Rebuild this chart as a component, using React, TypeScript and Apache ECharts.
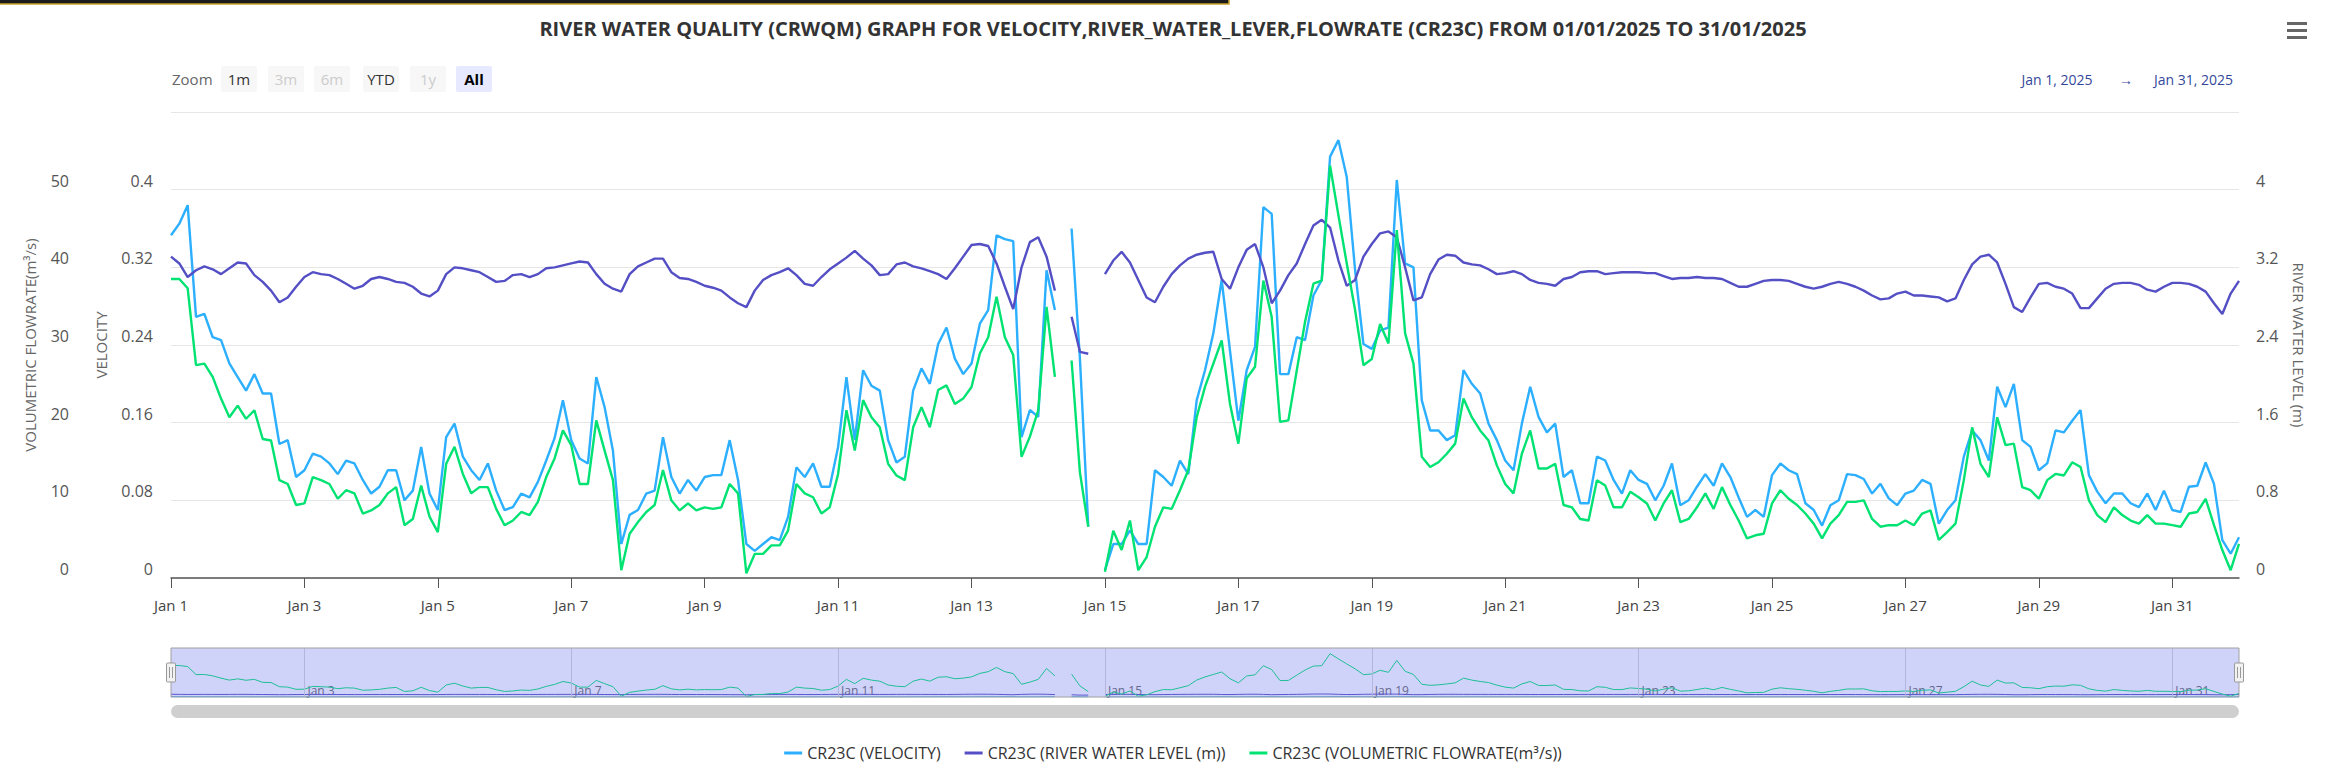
import React, { useEffect, useRef } from "react";
import * as echarts from "echarts";

// ---------- data (3-hourly readings, Jan 1 00:00 -> Feb 1 00:00) ----------
const START = Date.UTC(2025, 0, 1);
const END = Date.UTC(2025, 1, 1);
const STEP_MS = 3 * 3600 * 1000;

const velocity: (number | null)[] = [
  0.353, 0.365, 0.384, 0.269, 0.272, 0.248, 0.245, 0.221, 0.207, 0.193,
  0.210, 0.190, 0.190, 0.138, 0.142, 0.104, 0.111, 0.128, 0.125, 0.118,
  0.107, 0.121, 0.118, 0.101, 0.087, 0.094, 0.111, 0.111, 0.080, 0.090,
  0.135, 0.087, 0.070, 0.145, 0.159, 0.125, 0.111, 0.101, 0.118, 0.090,
  0.070, 0.073, 0.087, 0.083, 0.099, 0.121, 0.144, 0.183, 0.142, 0.123,
  0.118, 0.207, 0.176, 0.131, 0.035, 0.065, 0.070, 0.087, 0.090, 0.145,
  0.104, 0.087, 0.101, 0.090, 0.104, 0.106, 0.106, 0.142, 0.101, 0.035,
  0.028, 0.035, 0.042, 0.039, 0.063, 0.114, 0.104, 0.118, 0.094, 0.094,
  0.135, 0.207, 0.142, 0.214, 0.198, 0.193, 0.142, 0.119, 0.125, 0.193,
  0.216, 0.200, 0.241, 0.258, 0.226, 0.210, 0.221, 0.262, 0.276, 0.353,
  0.349, 0.347, 0.145, 0.173, 0.166, 0.317, 0.276, null, 0.360, 0.226,
  0.053, null, 0.008, 0.035, 0.035, 0.049, 0.035, 0.035, 0.111, 0.104,
  0.095, 0.121, 0.107, 0.183, 0.214, 0.252, 0.307, 0.234, 0.162, 0.214,
  0.238, 0.382, 0.375, 0.210, 0.210, 0.248, 0.245, 0.291, 0.307, 0.434,
  0.451, 0.413, 0.317, 0.241, 0.236, 0.255, 0.258, 0.410, 0.324, 0.320,
  0.183, 0.152, 0.152, 0.142, 0.147, 0.214, 0.200, 0.190, 0.159, 0.142,
  0.121, 0.111, 0.159, 0.197, 0.166, 0.150, 0.159, 0.104, 0.111, 0.077,
  0.077, 0.125, 0.121, 0.101, 0.087, 0.111, 0.101, 0.097, 0.080, 0.095,
  0.118, 0.075, 0.080, 0.094, 0.107, 0.095, 0.118, 0.104, 0.083, 0.063,
  0.070, 0.063, 0.106, 0.118, 0.111, 0.107, 0.077, 0.070, 0.054, 0.075,
  0.080, 0.107, 0.106, 0.102, 0.087, 0.097, 0.082, 0.075, 0.087, 0.090,
  0.101, 0.097, 0.056, 0.070, 0.080, 0.125, 0.152, 0.142, 0.121, 0.197,
  0.176, 0.200, 0.142, 0.135, 0.111, 0.118, 0.152, 0.150, 0.162, 0.173,
  0.106, 0.089, 0.077, 0.087, 0.087, 0.077, 0.073, 0.087, 0.070, 0.090,
  0.070, 0.068, 0.094, 0.095, 0.119, 0.097, 0.039, 0.025, 0.042,
];

const waterLevel: (number | null)[] = [
  3.31, 3.24, 3.10, 3.17, 3.21, 3.18, 3.13, 3.19, 3.25, 3.24,
  3.12, 3.05, 2.96, 2.84, 2.89, 3.00, 3.10, 3.15, 3.13, 3.12,
  3.08, 3.03, 2.98, 3.01, 3.08, 3.10, 3.08, 3.05, 3.04, 3.00,
  2.93, 2.90, 2.96, 3.13, 3.20, 3.19, 3.17, 3.15, 3.10, 3.05,
  3.06, 3.12, 3.13, 3.10, 3.13, 3.19, 3.20, 3.22, 3.24, 3.26,
  3.25, 3.13, 3.03, 2.98, 2.95, 3.13, 3.21, 3.25, 3.29, 3.29,
  3.15, 3.09, 3.08, 3.05, 3.01, 2.99, 2.96, 2.89, 2.83, 2.79,
  2.96, 3.07, 3.12, 3.15, 3.19, 3.12, 3.03, 3.01, 3.10, 3.18,
  3.24, 3.30, 3.37, 3.29, 3.22, 3.12, 3.13, 3.23, 3.25, 3.21,
  3.19, 3.16, 3.13, 3.08, 3.19, 3.31, 3.43, 3.44, 3.42, 3.24,
  3.00, 2.77, 3.20, 3.46, 3.51, 3.31, 2.96, null, 2.69, 2.33,
  2.31, null, 3.13, 3.27, 3.36, 3.25, 3.07, 2.89, 2.84, 3.00,
  3.13, 3.22, 3.29, 3.33, 3.35, 3.36, 3.08, 2.98, 3.20, 3.38,
  3.44, 3.20, 2.83, 2.96, 3.12, 3.24, 3.44, 3.63, 3.69, 3.61,
  3.27, 3.01, 3.07, 3.31, 3.44, 3.55, 3.57, 3.51, 3.20, 2.86,
  2.89, 3.13, 3.28, 3.33, 3.32, 3.25, 3.23, 3.22, 3.18, 3.13,
  3.14, 3.16, 3.13, 3.07, 3.04, 3.03, 3.01, 3.08, 3.10, 3.15,
  3.16, 3.16, 3.13, 3.14, 3.15, 3.15, 3.15, 3.14, 3.14, 3.11,
  3.08, 3.09, 3.09, 3.10, 3.09, 3.09, 3.08, 3.04, 3.00, 3.00,
  3.03, 3.06, 3.07, 3.07, 3.06, 3.03, 3.00, 2.98, 3.00, 3.03,
  3.05, 3.03, 3.00, 2.96, 2.91, 2.87, 2.88, 2.93, 2.95, 2.91,
  2.91, 2.90, 2.89, 2.85, 2.88, 3.07, 3.23, 3.31, 3.33, 3.25,
  3.03, 2.79, 2.74, 2.89, 3.03, 3.04, 3.00, 2.98, 2.93, 2.78,
  2.78, 2.88, 2.98, 3.03, 3.04, 3.04, 3.02, 2.97, 2.95, 3.00,
  3.04, 3.04, 3.03, 3.00, 2.95, 2.83, 2.72, 2.93, 3.06,
];

const flowrate: (number | null)[] = [
  38.5, 38.5, 37.3, 27.4, 27.6, 25.9, 23.1, 20.7, 22.2, 20.5,
  21.6, 17.9, 17.7, 12.6, 12.1, 9.4, 9.6, 13.0, 12.6, 12.1,
  10.2, 11.3, 10.9, 8.3, 8.7, 9.4, 10.9, 11.7, 6.8, 7.6,
  11.9, 7.9, 5.9, 14.7, 16.9, 13.4, 10.9, 11.7, 11.7, 8.9,
  6.8, 7.4, 8.5, 8.1, 9.8, 13.0, 15.4, 19.0, 17.1, 12.1,
  12.1, 20.3, 16.4, 12.6, 1.0, 5.7, 7.2, 8.5, 9.4, 13.9,
  10.0, 8.7, 9.6, 8.7, 9.1, 8.9, 9.1, 12.1, 10.9, 0.6,
  3.1, 3.1, 4.2, 4.2, 6.1, 12.1, 10.9, 10.4, 8.3, 9.1,
  13.4, 21.6, 16.4, 22.9, 20.7, 19.4, 14.7, 13.2, 12.6, 19.4,
  22.0, 19.4, 24.2, 24.8, 22.4, 23.1, 24.6, 28.9, 31.0, 36.2,
  31.0, 28.7, 15.6, 18.2, 21.6, 34.9, 25.9, null, 28.0, 13.6,
  6.6, null, 0.8, 6.1, 3.6, 7.4, 1.0, 2.7, 6.6, 9.1,
  8.9, 11.3, 13.9, 20.7, 24.6, 27.6, 30.6, 22.4, 17.3, 25.7,
  27.2, 38.3, 33.6, 20.1, 20.3, 26.7, 33.0, 37.9, 38.3, 53.1,
  46.7, 40.5, 34.5, 27.4, 28.2, 32.7, 30.2, 44.8, 31.5, 27.6,
  15.6, 14.3, 14.9, 16.0, 17.3, 23.1, 20.7, 19.0, 17.7, 14.5,
  12.1, 10.9, 16.0, 19.0, 14.1, 14.1, 14.7, 9.4, 9.1, 7.6,
  7.4, 12.6, 11.9, 9.1, 9.1, 11.1, 10.4, 9.6, 7.4, 9.6,
  11.3, 7.2, 7.6, 9.1, 10.9, 8.9, 11.7, 9.4, 7.4, 5.1,
  5.5, 5.7, 9.6, 11.3, 10.2, 9.4, 8.3, 7.0, 5.1, 7.0,
  8.1, 9.8, 9.8, 10.0, 7.6, 6.6, 6.8, 6.8, 7.4, 6.8,
  8.3, 8.7, 4.9, 5.9, 7.0, 12.6, 19.4, 14.7, 13.0, 20.7,
  17.1, 17.3, 11.7, 11.3, 10.2, 12.6, 13.4, 13.2, 14.9, 14.3,
  10.0, 8.1, 7.2, 9.1, 8.1, 7.4, 7.0, 8.1, 7.0, 7.0,
  6.8, 6.6, 8.3, 8.5, 10.2, 6.8, 3.6, 1.0, 4.4,
];

const xTickDays = [1, 3, 5, 7, 9, 11, 13, 15, 17, 19, 21, 23, 25, 27, 29, 31];
const navTickDays = [3, 7, 11, 15, 19, 23, 27, 31];

const seriesNames = [
  "CR23C (VELOCITY)",
  "CR23C (RIVER WATER LEVEL (m))",
  "CR23C (VOLUMETRIC FLOWRATE(m³/s))",
];
const seriesColors = ["#2caffe", "#544fc5", "#00e272"];

const zoomButtons = [
  { label: "1m", state: "normal" },
  { label: "3m", state: "disabled" },
  { label: "6m", state: "disabled" },
  { label: "YTD", state: "normal" },
  { label: "1y", state: "disabled" },
  { label: "All", state: "selected" },
];
const dateRange = ["Jan 1, 2025", "Jan 31, 2025"];

const TITLE =
  "RIVER WATER QUALITY (CRWQM) GRAPH FOR VELOCITY,RIVER_WATER_LEVER,FLOWRATE (CR23C) FROM 01/01/2025 TO 31/01/2025";

const FONT = "'Open Sans', 'Noto Sans', sans-serif";

// ---------- layout ----------
const W = 2346;
const H = 784;
const PL = 171;
const PR = 2239;
const PT = 112;
const PB = 578;
const NT = 648;
const NB = 697;

const times = velocity.map((_, i) => START + i * STEP_MS);
const toPairs = (arr: (number | null)[]) =>
  arr.map((v, i) => [times[i], v === null ? "-" : v]);
const dayTs = (d: number) => Date.UTC(2025, 0, d);
const fmtDay = (v: number) => "Jan " + new Date(v).getUTCDate();

function buildGraphic() {
  const g: any[] = [];
  g.push({
    type: "rect",
    shape: { x: -2, y: -2, width: 1231, height: 6 },
    style: { fill: "#1c1c1c", stroke: "#c9a227", lineWidth: 1.5 },
    silent: true,
  });
  [22, 29, 36].forEach((y) =>
    g.push({
      type: "rect",
      shape: { x: 2287, y, width: 20, height: 3 },
      style: { fill: "#666" },
      silent: true,
    })
  );
  g.push({
    type: "text",
    x: 172,
    y: 79,
    style: { text: "Zoom", fill: "#666", font: `15px ${FONT}`, verticalAlign: "middle", align: "left" },
    silent: true,
  });
  const centers = [239, 286, 332, 381, 428, 474];
  zoomButtons.forEach((b, i) => {
    const cx = centers[i];
    const fill = b.state === "selected" ? "#e6e9ff" : "#f7f7f7";
    const color = b.state === "disabled" ? "#cccccc" : b.state === "selected" ? "#000" : "#333";
    g.push({
      type: "rect",
      shape: { x: cx - 18, y: 66, width: 36, height: 26, r: 2 },
      style: { fill },
      silent: true,
    });
    g.push({
      type: "text",
      x: cx,
      y: 79,
      style: {
        text: b.label,
        fill: color,
        font: `${b.state === "selected" ? "bold " : ""}15px ${FONT}`,
        align: "center",
        verticalAlign: "middle",
      },
      silent: true,
    });
  });
  g.push({
    type: "text",
    x: 2057,
    y: 79,
    style: { text: dateRange[0], fill: "#34489a", font: `14px ${FONT}`, align: "center", verticalAlign: "middle" },
    silent: true,
  });
  g.push({
    type: "text",
    x: 2126,
    y: 79,
    style: { text: "→", fill: "#34489a", font: `14px ${FONT}`, align: "center", verticalAlign: "middle" },
    silent: true,
  });
  g.push({
    type: "text",
    x: 2233,
    y: 79,
    style: { text: dateRange[1], fill: "#34489a", font: `14px ${FONT}`, align: "right", verticalAlign: "middle" },
    silent: true,
  });
  g.push({
    type: "rect",
    z: 50,
    shape: { x: PL, y: NT, width: PR - PL, height: NB - NT },
    style: { fill: "rgba(100,110,235,0.30)", stroke: "#a0a0a0", lineWidth: 1 },
    silent: true,
  });
  [PL, PR].forEach((hx) => {
    g.push({
      type: "rect",
      z: 60,
      shape: { x: hx - 4.5, y: 663, width: 9, height: 19, r: 1 },
      style: { fill: "#f2f2f2", stroke: "#999", lineWidth: 1 },
      silent: true,
    });
    [-1.5, 1.5].forEach((dx) =>
      g.push({
        type: "line",
        z: 61,
        shape: { x1: hx + dx, y1: 667, x2: hx + dx, y2: 678 },
        style: { stroke: "#999", lineWidth: 1 },
        silent: true,
      })
    );
  });
  g.push({
    type: "rect",
    shape: { x: PL, y: 705, width: PR - PL, height: 13, r: 6.5 },
    style: { fill: "#cfcfcf" },
    silent: true,
  });
  return g;
}

export default function App() {
  const ref = useRef<HTMLDivElement>(null);

  useEffect(() => {
    if (!ref.current) return;
    const chart = echarts.init(ref.current, undefined, { renderer: "svg" });
    const xTicks = xTickDays.map(dayTs);
    const navTicks = navTickDays.map(dayTs);

    const mainSeries = [velocity, waterLevel, flowrate].map((arr, i) => ({
      name: seriesNames[i],
      type: "line",
      xAxisIndex: 0,
      yAxisIndex: i,
      data: toPairs(arr),
      showSymbol: false,
      symbol: "none",
      connectNulls: false,
      lineStyle: { width: 2.4, color: seriesColors[i] },
      itemStyle: { color: seriesColors[i] },
      z: 2 + i,
    }));

    const navSeries = [velocity, waterLevel, flowrate].map((arr, i) => ({
      name: "nav-" + i,
      type: "line",
      xAxisIndex: 1,
      yAxisIndex: 3,
      data: toPairs(arr),
      showSymbol: false,
      symbol: "none",
      silent: true,
      lineStyle: { width: 1, color: seriesColors[i] },
      itemStyle: { color: seriesColors[i] },
      z: 2 + i,
      ...(i === 0
        ? {
            markLine: {
              silent: true,
              symbol: "none",
              label: { show: false },
              lineStyle: { color: "#d6d6d6", width: 1, type: "solid" },
              data: navTicks.map((t) => ({ xAxis: t })),
            },
          }
        : {}),
    }));

    const yLabel = (margin: number) => ({
      color: "#555",
      fontSize: 16,
      margin,
      showMaxLabel: false,
      verticalAlign: "bottom",
      lineHeight: 18,
    });
    const yName = { color: "#666", fontSize: 15, fontFamily: FONT };

    const option: any = {
      animation: false,
      textStyle: { fontFamily: FONT },
      title: {
        text: TITLE,
        left: "center",
        top: 13,
        textStyle: { fontSize: 20, fontWeight: "bold", color: "#333", fontFamily: FONT },
      },
      legend: {
        data: seriesNames,
        left: "center",
        top: 740,
        icon: "rect",
        itemWidth: 18,
        itemHeight: 3,
        itemGap: 24,
        textStyle: { color: "#333", fontSize: 16, fontFamily: FONT },
      },
      grid: [
        { left: PL, right: W - PR, top: PT, bottom: H - PB },
        { left: PL, right: W - PR, top: NT, bottom: H - NB },
      ],
      xAxis: [
        {
          type: "value",
          gridIndex: 0,
          min: START,
          max: END,
          axisLine: { show: true, lineStyle: { color: "#555", width: 1.5 } },
          axisTick: { show: true, length: 10, lineStyle: { color: "#555" }, customValues: xTicks },
          axisLabel: {
            customValues: xTicks,
            formatter: fmtDay,
            color: "#444",
            fontSize: 15,
            margin: 19,
            hideOverlap: false,
          },
          splitLine: { show: false },
        },
        {
          type: "value",
          gridIndex: 1,
          min: START,
          max: END,
          axisLine: { show: false },
          axisTick: { show: false },
          splitLine: { show: false },
          axisLabel: {
            inside: true,
            customValues: navTicks,
            formatter: fmtDay,
            color: "#666",
            fontSize: 12,
            align: "left",
            margin: 1,
            padding: [0, 0, 0, 3],
            hideOverlap: false,
          },
        },
      ],
      yAxis: [
        {
          type: "value",
          gridIndex: 0,
          position: "left",
          min: 0,
          max: 0.48,
          interval: 0.08,
          name: "VELOCITY",
          nameLocation: "middle",
          nameGap: 63,
          nameTextStyle: yName,
          axisLine: { show: false },
          axisTick: { show: false },
          axisLabel: yLabel(18),
          splitLine: { show: true, lineStyle: { color: "#e6e6e6", width: 1 } },
        },
        {
          type: "value",
          gridIndex: 0,
          position: "right",
          min: 0,
          max: 4.8,
          interval: 0.8,
          name: "RIVER WATER LEVEL (m)",
          nameLocation: "middle",
          nameGap: 52,
          nameRotate: -90,
          nameTextStyle: yName,
          axisLine: { show: false },
          axisTick: { show: false },
          axisLabel: yLabel(17),
          splitLine: { show: false },
        },
        {
          type: "value",
          gridIndex: 0,
          position: "left",
          offset: 84,
          min: 0,
          max: 60,
          interval: 10,
          name: "VOLUMETRIC FLOWRATE(m³/s)",
          nameLocation: "middle",
          nameGap: 50,
          nameTextStyle: yName,
          axisLine: { show: false },
          axisTick: { show: false },
          axisLabel: yLabel(18),
          splitLine: { show: false },
        },
        {
          type: "value",
          gridIndex: 1,
          min: 0,
          max: 60,
          show: false,
        },
      ],
      series: [...mainSeries, ...navSeries],
      graphic: buildGraphic(),
    };

    chart.setOption(option);
    return () => chart.dispose();
  }, []);

  return (
    <div
      ref={ref}
      style={{ position: "fixed", left: 0, top: 0, width: W, height: H, background: "#fff" }}
    />
  );
}
